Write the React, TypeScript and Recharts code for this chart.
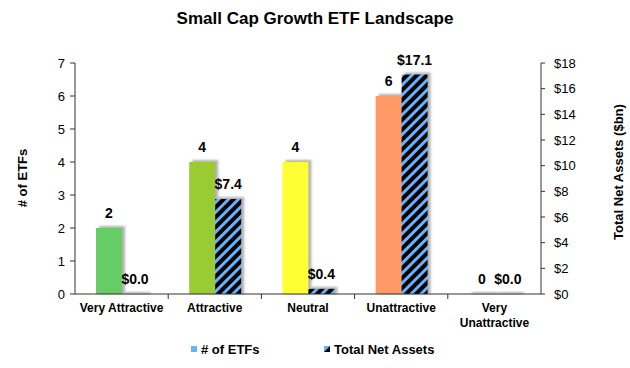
import { Bar, BarChart, Cell, LabelList, Legend, XAxis, YAxis } from "recharts";

const categories = ["Very Attractive", "Attractive", "Neutral", "Unattractive", "Very Unattractive"];
const etfCounts = [2, 4, 4, 6, 0];
const netAssets = [0.0, 7.4, 0.4, 17.1, 0.0];
const etfColors = ["#66CC66", "#99CC33", "#FFFF33", "#FF9966", "#FF3333"];
const countTicks = [0, 1, 2, 3, 4, 5, 6, 7];
const assetTicks = [0, 2, 4, 6, 8, 10, 12, 14, 16, 18];

const data = categories.map((name, i) => ({
  name,
  etfs: etfCounts[i],
  assets: netAssets[i],
}));

const font = "'Liberation Sans', Arial, sans-serif";
const stripeBlue = "#66B2FF";

function ShadowBar(props: any) {
  const { x, y, width, height, fill } = props;
  const h = Math.max(height || 0, 0);
  return (
    <g>
      <rect x={x + 3} y={y - 2} width={width} height={h + 2} fill="#9a9a9a" opacity={0.75} filter="url(#barBlur)" />
      {h > 0 && <rect x={x} y={y} width={width} height={h} fill={fill} />}
    </g>
  );
}

function CategoryTick(props: any) {
  const { x, y, payload, index } = props;
  const band = 93.2;
  const words = payload.value === "Very Unattractive" ? ["Very", "Unattractive"] : [payload.value];
  return (
    <g>
      {index > 0 && <line x1={x - band / 2} y1={y - 8} x2={x - band / 2} y2={y - 3} stroke="#333" />}
      {words.map((w: string, i: number) => (
        <text key={w} x={x} y={y + 10 + i * 15} textAnchor="middle" fontSize={12} fontWeight="bold" fill="#000" fontFamily={font}>
          {w}
        </text>
      ))}
    </g>
  );
}

function LegendContent() {
  return (
    <div style={{ position: "relative", height: 20, fontFamily: font, fontSize: 13, fontWeight: "bold", color: "#000" }}>
      <svg width={8} height={8} style={{ position: "absolute", left: 191, top: 4 }}>
        <rect x={0} y={0} width={6} height={6} fill={stripeBlue} />
      </svg>
      <span style={{ position: "absolute", left: 201, top: 0 }}># of ETFs</span>
      <svg width={8} height={8} style={{ position: "absolute", left: 324, top: 4 }}>
        <rect x={0} y={0} width={6} height={6} fill={stripeBlue} />
        <polygon points="6,0 6,6 0,6" fill="#000" />
      </svg>
      <span style={{ position: "absolute", left: 334, top: 0 }}>Total Net Assets</span>
    </div>
  );
}

export default function App() {
  return (
    <div style={{ position: "absolute", left: 0, top: 0, width: 630, height: 368, background: "#fff" }}>
      <div
        style={{
          position: "absolute",
          top: 9,
          left: 0,
          width: 630,
          textAlign: "center",
          fontFamily: font,
          fontWeight: "bold",
          fontSize: 17,
          color: "#000",
        }}
      >
        Small Cap Growth ETF Landscape
      </div>
      <BarChart
        width={630}
        height={368}
        data={data}
        margin={{ top: 63, right: 0, bottom: 0, left: 0 }}
        barSize={26}
        barGap={0}
      >
        <defs>
          <pattern id="stripes" patternUnits="userSpaceOnUse" width={7} height={7} patternTransform="rotate(45)">
            <rect x={0} y={0} width={7} height={7} fill="#000" />
            <rect x={0} y={0} width={3} height={7} fill={stripeBlue} />
          </pattern>
          <filter id="barBlur" x="-20%" y="-20%" width="140%" height="140%">
            <feGaussianBlur stdDeviation={1} />
          </filter>
        </defs>
        <XAxis
          dataKey="name"
          height={74}
          interval={0}
          axisLine={{ stroke: "#333" }}
          tickLine={false}
          tick={<CategoryTick />}
        />
        <YAxis
          yAxisId="left"
          width={75}
          domain={[0, 7]}
          ticks={countTicks}
          interval={0}
          axisLine={{ stroke: "#333" }}
          tickLine={{ stroke: "#333" }}
          tickSize={5}
          tickMargin={5}
          tick={{ fontSize: 13, fill: "#000", fontFamily: font }}
          label={{
            content: () => (
              <text
                x={22}
                y={178}
                transform="rotate(-90, 22, 178)"
                textAnchor="middle"
                dominantBaseline="central"
                fontSize={13}
                fontWeight="bold"
                fill="#000"
                fontFamily={font}
              >
                # of ETFs
              </text>
            ),
          }}
        />
        <YAxis
          yAxisId="right"
          orientation="right"
          width={89}
          domain={[0, 18]}
          ticks={assetTicks}
          interval={0}
          axisLine={{ stroke: "#333" }}
          tickLine={{ stroke: "#333" }}
          tickSize={4}
          tickMargin={9}
          tickFormatter={(v: number) => `$${v}`}
          tick={{ fontSize: 13, fill: "#000", fontFamily: font }}
          label={{
            content: () => (
              <text
                x={618}
                y={172}
                transform="rotate(-90, 618, 172)"
                textAnchor="middle"
                dominantBaseline="central"
                fontSize={13}
                fontWeight="bold"
                fill="#000"
                fontFamily={font}
              >
                Total Net Assets ($bn)
              </text>
            ),
          }}
        />
        <Legend
          layout="horizontal"
          verticalAlign="middle"
          align="center"
          content={<LegendContent />}
          wrapperStyle={{ top: 342, left: 0, width: 630, height: 20 }}
        />
        <Bar yAxisId="left" dataKey="etfs" name="# of ETFs" fill={stripeBlue} shape={<ShadowBar />} isAnimationActive={false}>
          {data.map((d, i) => (
            <Cell key={d.name} fill={etfColors[i]} />
          ))}
          <LabelList
            dataKey="etfs"
            position="top"
            offset={10}
            style={{ fontSize: 14, fontWeight: "bold", fill: "#000", fontFamily: font }}
          />
        </Bar>
        <Bar yAxisId="right" dataKey="assets" name="Total Net Assets" fill="url(#stripes)" shape={<ShadowBar />} isAnimationActive={false}>
          <LabelList
            dataKey="assets"
            position="top"
            offset={10}
            formatter={(v: any) => `$${Number(v).toFixed(1)}`}
            style={{ fontSize: 14, fontWeight: "bold", fill: "#000", fontFamily: font }}
          />
        </Bar>
      </BarChart>
    </div>
  );
}
